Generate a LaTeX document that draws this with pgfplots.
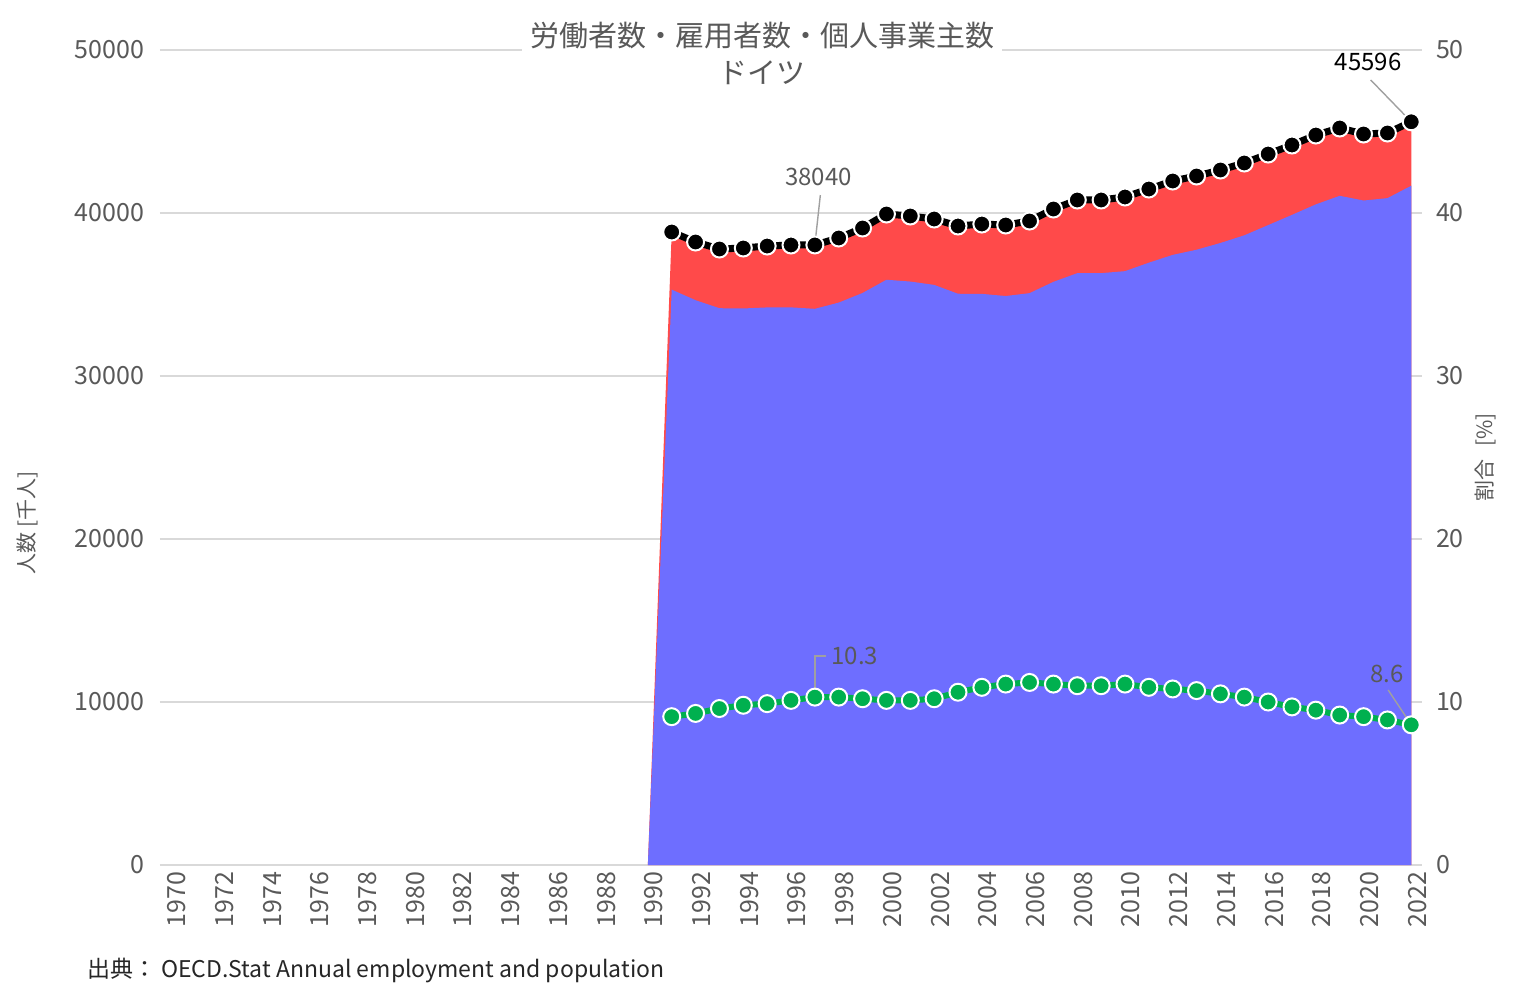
\documentclass[border=0pt]{standalone}
\usepackage{fontspec}
\setmainfont{Noto Sans CJK JP}
\usepackage{pgfplots}
\pgfplotsset{compat=1.18}

\definecolor{empblue}{HTML}{6E6EFF}
\definecolor{selfred}{HTML}{FF4A4A}
\definecolor{sharegreen}{HTML}{00B04F}
\definecolor{gridgray}{HTML}{D9D9D9}
\definecolor{tickgray}{HTML}{595959}
\definecolor{leadgray}{HTML}{A0A0A0}

% total workers [thousand]
\pgfplotstableread{
year total
1990 0
1991 38834
1992 38221
1993 37791
1994 37853
1995 37975
1996 38037
1997 38040
1998 38466
1999 39080
2000 39939
2001 39816
2002 39632
2003 39202
2004 39325
2005 39264
2006 39509
2007 40245
2008 40798
2009 40798
2010 40982
2011 41472
2012 41963
2013 42270
2014 42638
2015 43067
2016 43619
2017 44171
2018 44785
2019 45215
2020 44847
2021 44908
2022 45596
}\totaltab

% employees [thousand]
\pgfplotstableread{
year emp
1990 0
1991 35300
1992 34651
1993 34159
1994 34143
1995 34208
1996 34211
1997 34122
1998 34504
1999 35094
2000 35905
2001 35795
2002 35590
2003 35047
2004 35039
2005 34906
2006 35084
2007 35778
2008 36310
2009 36310
2010 36433
2011 36952
2012 37431
2013 37747
2014 38161
2015 38631
2016 39257
2017 39886
2018 40530
2019 41055
2020 40766
2021 40911
2022 41675
}\emptab

% self-employment share [%]
\pgfplotstableread{
year share
1991 9.1
1992 9.3
1993 9.6
1994 9.8
1995 9.9
1996 10.1
1997 10.3
1998 10.3
1999 10.2
2000 10.1
2001 10.1
2002 10.2
2003 10.6
2004 10.9
2005 11.1
2006 11.2
2007 11.1
2008 11.0
2009 11.0
2010 11.1
2011 10.9
2012 10.8
2013 10.7
2014 10.5
2015 10.3
2016 10.0
2017 9.7
2018 9.5
2019 9.2
2020 9.1
2021 8.9
2022 8.6
}\sharetab

\pgfplotsset{
  base/.style={
    at={(0,0)}, anchor=south west,
    scale only axis, width=631pt, height=407.5pt,
    xmin=1969.55, xmax=2022.45,
    axis line style={draw=none}, tick style={draw=none},
    scaled y ticks=false, scaled x ticks=false,
    /pgf/number format/1000 sep={},
    /pgf/number format/assume math mode=true,
    ticklabel style={font=\fontsize{12.5}{14}\selectfont, text=tickgray},
    label style={font=\fontsize{10.5}{12}\selectfont, text=tickgray},
    clip=false,
  },
}

\begin{document}
\begin{tikzpicture}
\path[use as bounding box] (-80pt,-65.5pt) rectangle (682pt,432.5pt);

\begin{axis}[base,
  ymin=0, ymax=50000,
  xtick={1970,1972,...,2022},
  ytick={0,10000,...,50000},
  ymajorgrids, grid style={color=gridgray, line width=0.75pt},
  xticklabel style={rotate=90, anchor=east, yshift=-3pt},
  yticklabel style={xshift=-4.5pt},
  ylabel={人数 [千人]},
  ylabel style={at={(axis description cs:-0.105,0.42)}, anchor=center},
]
\addplot[fill=selfred, draw=none] table[x=year, y=total] {\totaltab} \closedcycle;
\addplot[fill=empblue, draw=none] table[x=year, y=emp] {\emptab} \closedcycle;
\addplot[black, line width=3.5pt, mark=*, mark size=4.25pt,
  mark options={fill=black, draw=white, line width=1pt}]
  table[x=year, y=total, skip coords between index={0}{1}] {\totaltab};

\draw[leadgray, line width=0.7pt] (axis cs:1997.23,41104) -- (axis cs:1997,38040);
\node[text=tickgray, font=\fontsize{12}{13}\selectfont] at (axis cs:1997.15,42209) {38040};
\draw[leadgray, line width=0.7pt] (axis cs:2020.3,48160) -- (axis cs:2022,45596);
\node[text=black, font=\fontsize{12}{13}\selectfont] at (axis cs:2020.19,49264) {45596};

\node[fill=white, text=tickgray, align=center, inner xsep=4pt, inner ysep=1pt,
  font=\fontsize{14.5}{18.5}\selectfont] at (axis cs:1994.8,49785)
  {労働者数・雇用者数・個人事業主数\\ドイツ};
\end{axis}

\begin{axis}[base,
  ymin=0, ymax=50,
  axis y line*=right, axis x line=none,
  ytick={0,10,...,50},
  yticklabel style={xshift=3.5pt},
  ylabel={割合\hspace{0.6em}[\%]},
  ylabel style={at={(axis description cs:1.05,0.5)}, anchor=center},
]
\addplot[color=sharegreen, line width=3pt, mark=*, mark size=4.25pt,
  mark options={fill=sharegreen, draw=white, line width=1pt}]
  table[x=year, y=share] {\sharetab};

\draw[leadgray, line width=0.7pt] (axis cs:1997,10.3) -- (axis cs:1997,12.82) -- (axis cs:1997.48,12.82);
\node[anchor=west, text=tickgray, font=\fontsize{12}{13}\selectfont, inner xsep=1pt] at (axis cs:1997.6,12.82) {10.3};
\draw[leadgray, line width=0.7pt] (axis cs:2021.03,10.74) -- (axis cs:2022,8.6);
\node[text=tickgray, font=\fontsize{12}{13}\selectfont] at (axis cs:2020.98,11.72) {8.6};
\end{axis}

\node[anchor=west, font=\fontsize{11.5}{13}\selectfont, text=black!85] at (-40pt,-52.5pt)
  {出典： OECD.Stat Annual employment and population};
\end{tikzpicture}
\end{document}
